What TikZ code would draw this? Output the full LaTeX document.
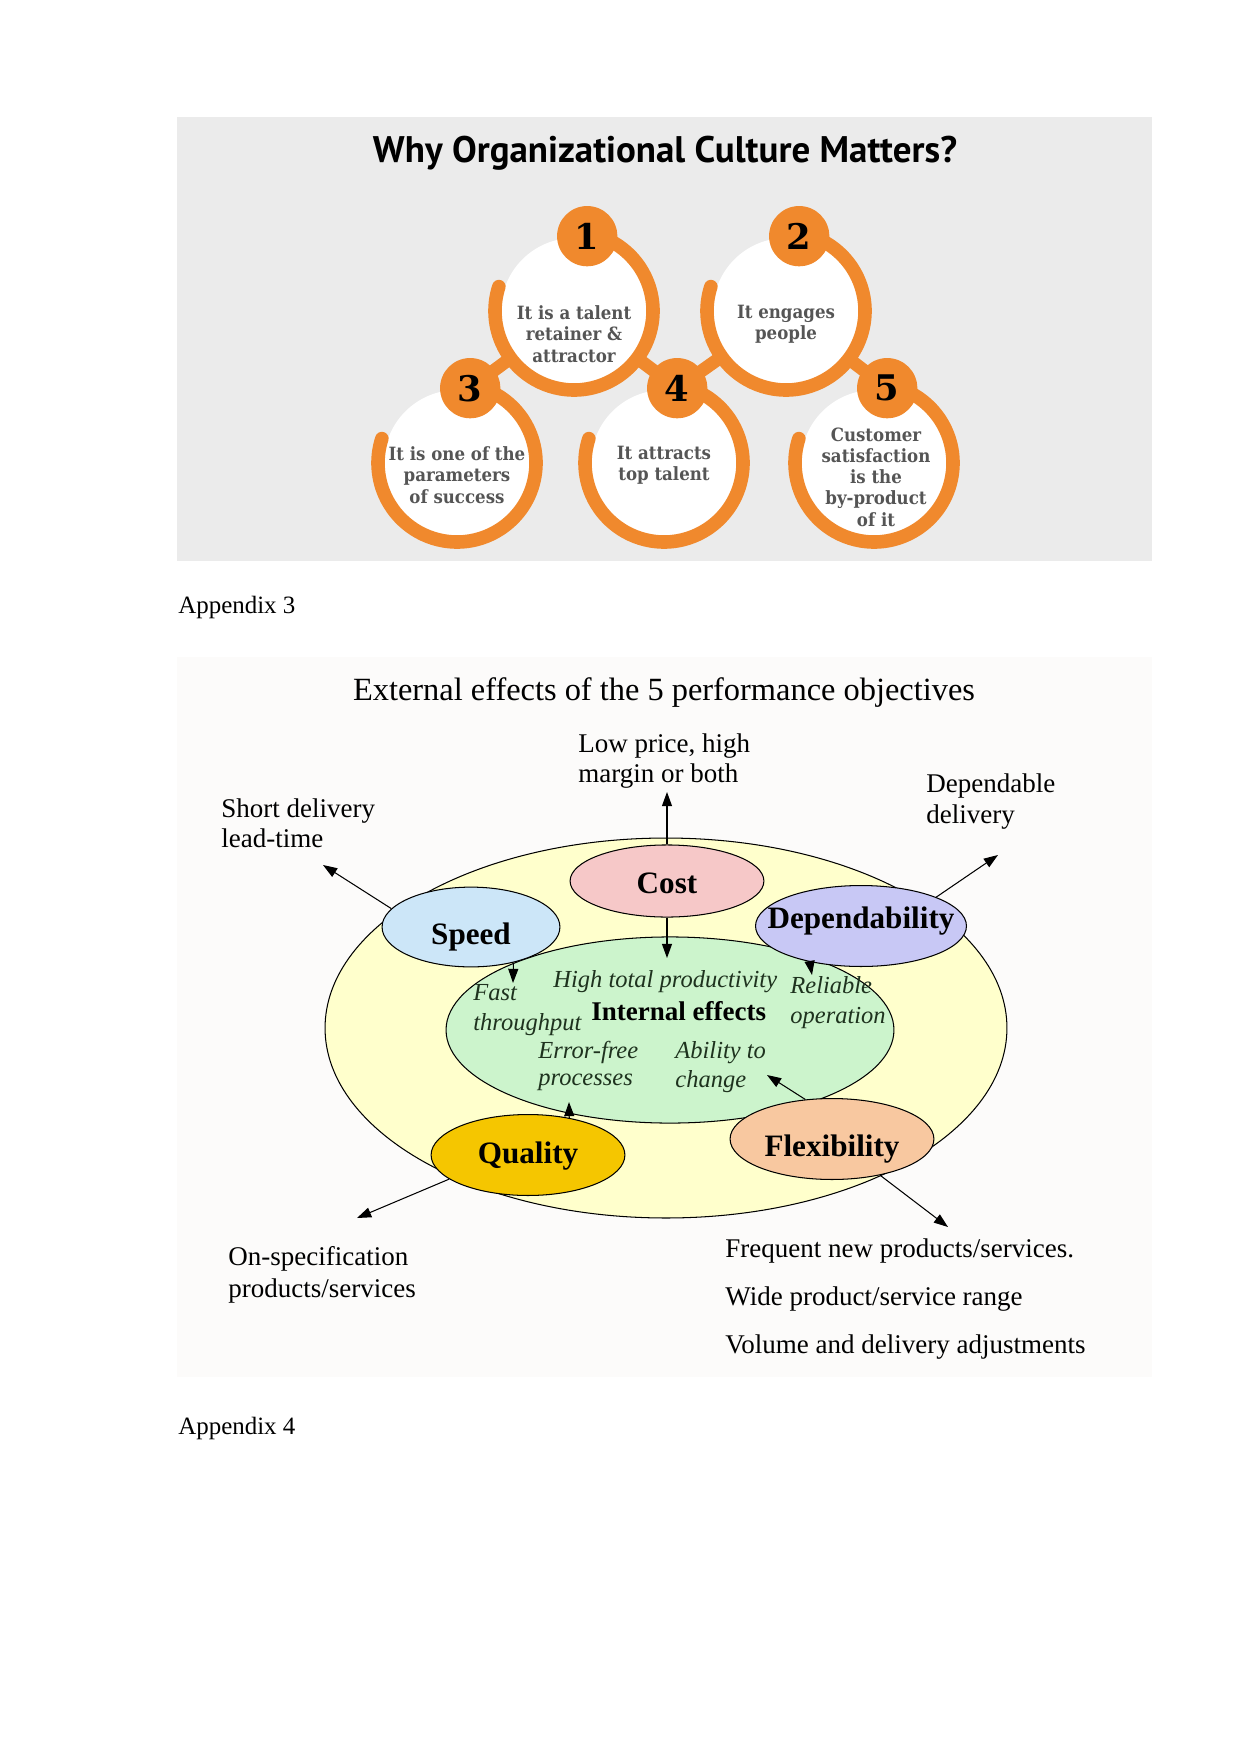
\documentclass[tikz,border=0pt]{standalone}
\usepackage{fontspec}
\setmainfont{Liberation Serif}
\newfontfamily\slabfont[FakeStretch=0.91]{DejaVu Serif}
\newfontfamily\numfont{DejaVu Serif}
\newfontfamily\headfont{PT Sans}
\usetikzlibrary{arrows.meta,positioning,calc,shapes.geometric}
\definecolor{panelgray}{RGB}{235,235,235}
\definecolor{ringorange}{RGB}{240,137,45}
\definecolor{textgray}{RGB}{85,85,85}
\definecolor{paper}{RGB}{252,251,250}
\definecolor{outeryellow}{RGB}{255,255,204}
\definecolor{innergreen}{RGB}{204,244,204}
\definecolor{costpink}{RGB}{246,200,200}
\definecolor{speedblue}{RGB}{204,230,248}
\definecolor{deplilac}{RGB}{200,200,245}
\definecolor{qualgold}{RGB}{245,198,0}
\definecolor{flexpeach}{RGB}{248,200,160}
\definecolor{effectink}{RGB}{30,50,30}
\tikzset{
  ring/.style={draw=ringorange,line width=2.3mm,line cap=round},
  bridge/.style={draw=ringorange,line width=2.2mm},
  badge/.style={circle,fill=ringorange,minimum size=10.2mm,inner sep=0pt,
    font=\numfont\bfseries\fontsize{17}{17}\selectfont},
  circtext/.style={align=center,text=textgray,
    font=\slabfont\bfseries\fontsize{8.8}{10.2}\selectfont},
  blob/.style={ellipse,draw=black,line width=0.5pt,inner sep=0pt},
  blobtext/.style={inner sep=0pt,text height=10pt,text depth=0pt,
    font=\bfseries\fontsize{15}{15}\selectfont},
  arrow/.style={-{Triangle[length=2.4mm,width=1.7mm]},line width=0.5pt},
  effect/.style={anchor=base west,inner sep=0pt,text=effectink,
    font=\itshape\fontsize{11.8}{12}\selectfont},
  outlabel/.style={anchor=base west,inner sep=0pt,font=\fontsize{13}{15}\selectfont},
  plain/.style={anchor=base west,inner sep=0pt,font=\fontsize{12}{14}\selectfont}
}
\begin{document}
\begin{tikzpicture}[x=0.16923mm,y=0.16923mm]
  \useasboundingbox (0,0) rectangle (1241,-1754);
  \fill[white] (0,0) rectangle (1241,-1754);

  % Appendix 2 picture
  \fill[panelgray] (177,-117) rectangle (1152,-561);
  \node[anchor=base,font=\headfont\bfseries\fontsize{17.8}{18}\selectfont] (why) at (665,-162) {Why Organizational Culture Matters?};

  \coordinate (c1) at (574,-311);
  \coordinate (c2) at (786,-311);
  \coordinate (c3) at (457,-463);
  \coordinate (c4) at (664,-463);
  \coordinate (c5) at (874,-463);

  \foreach \c in {c1,c2,c3,c4,c5}{
    \fill[white] (\c) circle[radius=73];
    \draw[ring] ($(\c)+(80:79)$) arc[start angle=80,end angle=-198,radius=79];
  }

  \node[badge] (b1) at ($(c1)+(80:76)$) {1};
  \node[badge] (b2) at ($(c2)+(80:76)$) {2};
  \coordinate (p3) at ($(c3)+(80:76)$);
  \coordinate (p4) at ($(c4)+(80:76)$);
  \coordinate (p5) at ($(c5)+(80:76)$);
  \draw[bridge] (p3) -- ($(c1)!0.6!(p3)$);
  \draw[bridge] (p4) -- ($(c1)!0.6!(p4)$);
  \draw[bridge] (p4) -- ($(c2)!0.6!(p4)$);
  \draw[bridge] (p5) -- ($(c2)!0.6!(p5)$);
  \node[badge] (b3) at (p3) {3};
  \node[badge] (b4) at (p4) {4};
  \node[badge] (b5) at (p5) {5};

  \node[circtext] (talent) at (574,-334) {It is a talent\\retainer \&\\attractor};
  \node[circtext] (engage) at (786,-324) {It engages\\people};
  \node[circtext] (params) at (457,-475) {It is one of the\\parameters\\of success};
  \node[circtext] (attract) at (664,-465) {It attracts\\top talent};
  \node[circtext] (custom) at (876,-477) {Customer\\satisfaction\\is the\\by-product\\of it};

  \node[plain] (app3) at (178,-613) {Appendix 3};

  % Appendix 3 picture
  \fill[paper] (177,-657) rectangle (1152,-1377);
  \node[anchor=base,inner sep=0pt,font=\fontsize{15.6}{16}\selectfont] (ext) at (664,-700) {External effects of the 5 performance objectives};

  \node[blob,fill=outeryellow,minimum width=115.4mm,minimum height=64.3mm] (outer) at (666,-1028) {};
  \node[blob,fill=innergreen,minimum width=75.8mm,minimum height=31.5mm] (inner) at (670,-1030) {};
  \node[blob,fill=costpink,minimum width=32.8mm,minimum height=12.2mm,
    label={[blobtext,yshift=-1pt]center:Cost}] (cost) at (667,-881) {};
  \node[blob,fill=speedblue,minimum width=30.1mm,minimum height=13.5mm,
    label={[blobtext,yshift=-3.4pt]center:Speed}] (speed) at (471,-927) {};
  \node[blob,fill=deplilac,minimum width=35.7mm,minimum height=13.7mm,
    label={[blobtext,yshift=3.6pt]center:Dependability}] (depend) at (861,-926) {};
  \node[blob,fill=qualgold,minimum width=32.8mm,minimum height=13.7mm,
    label={[blobtext,yshift=1pt]center:Quality}] (quality) at (528,-1155) {};
  \node[blob,fill=flexpeach,minimum width=34.5mm,minimum height=13.7mm,
    label={[blobtext,yshift=-3.4pt]center:Flexibility}] (flex) at (832,-1139) {};

  \node[effect] (high) at (553,-987) {High total productivity};
  \node[effect] (fast) at (473,-1000) {Fast};
  \node[effect] (thru) at (473,-1030) {throughput};
  \node[effect] (reli) at (790,-993) {Reliable};
  \node[effect] (oper) at (790,-1023) {operation};
  \node[effect] (err) at (538,-1058) {Error-free};
  \node[effect] (proc) at (538,-1085) {processes};
  \node[effect] (abil) at (675,-1058) {Ability to};
  \node[effect] (chan) at (675,-1087) {change};
  \node[anchor=base west,inner sep=0pt,font=\bfseries\fontsize{13}{14}\selectfont] (internal) at (591,-1020) {Internal effects};

  \node[outlabel] (low1) at (578,-752) {Low price, high};
  \node[outlabel] (low2) at (578,-782) {margin or both};
  \node[outlabel] (short1) at (221,-817) {Short delivery};
  \node[outlabel] (short2) at (221,-847) {lead-time};
  \node[outlabel] (dep1) at (926,-792) {Dependable};
  \node[outlabel] (dep2) at (926,-823) {delivery};
  \node[outlabel] (spec1) at (228,-1265) {On-specification};
  \node[outlabel] (spec2) at (228,-1297) {products/services};
  \node[outlabel] (freq) at (725,-1257) {Frequent new products/services.};
  \node[outlabel] (wide) at (725,-1305) {Wide product/service range};
  \node[outlabel] (vol) at (725,-1353) {Volume and delivery adjustments};

  \coordinate (lowtip) at (667,-792);
  \coordinate (costin) at (667,-958);
  \coordinate (shorttip) at (323,-865);
  \coordinate (fasttip) at (513,-983);
  \coordinate (deptip) at (998,-855);
  \coordinate (reltip) at (812,-975);
  \coordinate (errtip) at (569,-1102);
  \coordinate (spectip) at (357,-1218);
  \coordinate (abltip) at (767,-1075);
  \coordinate (freqtip) at (948,-1227);

  \draw[arrow] (cost.north) -- (lowtip);
  \draw[arrow] (cost.south) -- (costin);
  \draw[arrow] (speed.167) -- (shorttip);
  \draw[arrow] (speed.-40) -- (fasttip);
  \draw[arrow] (depend.21) -- (deptip);
  \draw[arrow] (depend.-145) -- (reltip);
  \draw[arrow] (quality.42) -- (errtip);
  \draw[arrow] (quality.197) -- (spectip);
  \draw[arrow] (flex.124) -- (abltip);
  \draw[arrow] (flex.-37) -- (freqtip);

  \node[plain] (app4) at (178,-1434) {Appendix 4};
\end{tikzpicture}
\end{document}
